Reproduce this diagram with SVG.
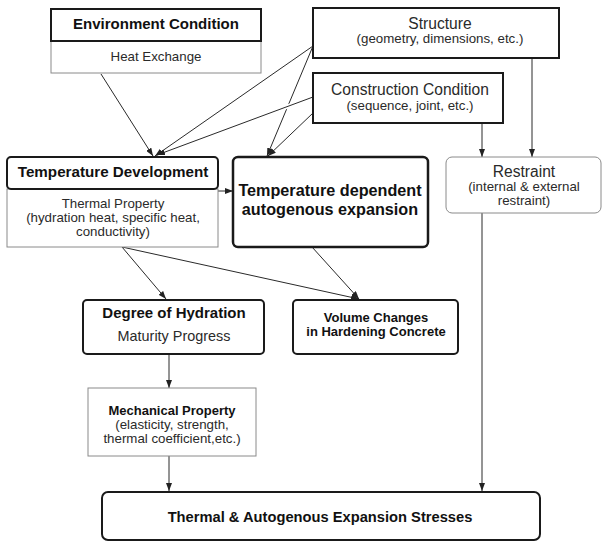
<svg xmlns="http://www.w3.org/2000/svg" width="602" height="543" viewBox="0 0 602 543">
<defs>
<marker id="ah" viewBox="0 0 8 6" refX="8" refY="3" markerWidth="8" markerHeight="6" markerUnits="userSpaceOnUse" orient="auto">
<path d="M0,0 L8,3 L0,6 z" fill="#222"/>
</marker>
<style>
.bold{fill:#fff;stroke:#1a1a1a;stroke-width:2}
.thick{fill:#fff;stroke:#1a1a1a;stroke-width:2.5}
.thin{fill:#fff;stroke:#8a8a8a;stroke-width:1}
.c{stroke:#2a2a2a;stroke-width:1;fill:none;marker-end:url(#ah)}
.halo{stroke:#fff;stroke-width:4;fill:none}
text{font-family:"Liberation Sans",Arial,sans-serif;text-anchor:middle;fill:#2a2a2a}
.tb{font-weight:bold;font-size:15px;fill:#111}
.tn{font-size:13.3px}
.tl{font-size:15.6px}
</style>
</defs>
<rect width="602" height="543" fill="#fff"/>

<g id="connectors">
<line class="c" x1="101" y1="74" x2="153" y2="156"/>
<line class="c" x1="313" y1="46" x2="155" y2="156"/>
<line class="c" x1="313" y1="46" x2="267" y2="156"/>
<line class="halo" x1="300" y1="102" x2="270" y2="113"/>
<line class="c" x1="313" y1="97" x2="157" y2="155"/>
<line class="c" x1="313" y1="113" x2="268" y2="156"/>
<line class="c" x1="532" y1="58" x2="532" y2="157"/>
<line class="c" x1="482" y1="123" x2="482" y2="157"/>
<line class="c" x1="218" y1="191" x2="233" y2="191"/>
<line class="c" x1="122" y1="247" x2="166" y2="299"/>
<line class="c" x1="122" y1="247" x2="359" y2="299"/>
<line class="c" x1="312" y1="247" x2="359" y2="299"/>
<line class="c" x1="169" y1="354" x2="169" y2="388"/>
<line class="c" x1="169" y1="456" x2="169" y2="491"/>
<line class="c" x1="482" y1="213" x2="482" y2="491"/>
</g>

<g id="environment">
<rect class="thin" x="51" y="41" width="210" height="32"/>
<rect class="bold" x="51" y="9" width="210" height="32"/>
<text class="tb" x="156" y="29">Environment Condition</text>
<text class="tn" x="156" y="61">Heat Exchange</text>
</g>

<g id="structure">
<rect class="bold" x="313" y="8" width="246" height="50"/>
<text class="tl" x="440" y="29">Structure</text>
<text class="tn" x="440" y="43">(geometry, dimensions, etc.)</text>
</g>

<g id="construction">
<rect class="bold" x="313" y="73" width="190" height="50"/>
<text class="tl" x="410" y="95">Construction Condition</text>
<text class="tn" x="410" y="110">(sequence, joint, etc.)</text>
</g>

<g id="temp-development">
<rect class="thin" x="7" y="189" width="211" height="58"/>
<rect class="bold" x="7" y="157" width="211" height="32" rx="4"/>
<text class="tb" x="113" y="177" style="font-size:15.2px">Temperature Development</text>
<text class="tn" x="113" y="208">Thermal Property</text>
<text class="tn" x="113" y="222">(hydration heat, specific heat,</text>
<text class="tn" x="113" y="236">conductivity)</text>
</g>

<g id="temp-dependent">
<rect class="thick" x="233" y="157" width="195" height="90" rx="5"/>
<text class="tb" x="330" y="196" style="font-size:16.2px">Temperature dependent</text>
<text class="tb" x="330" y="215" style="font-size:16.2px">autogenous expansion</text>
</g>

<g id="restraint">
<rect class="thin" x="446" y="157" width="155" height="56" rx="6"/>
<text class="tl" x="524" y="177">Restraint</text>
<text class="tn" x="524" y="191">(internal &amp; external</text>
<text class="tn" x="524" y="205">restraint)</text>
</g>

<g id="hydration">
<rect class="bold" x="83" y="300" width="181" height="54" rx="4"/>
<text class="tb" x="174" y="318">Degree of Hydration</text>
<text class="tn" x="174" y="341" style="font-size:14.4px">Maturity Progress</text>
</g>

<g id="volume">
<rect class="bold" x="293" y="300" width="165" height="54" rx="4"/>
<text class="tb" x="376" y="322" style="font-size:13px">Volume Changes</text>
<text class="tb" x="376" y="336" style="font-size:13px">in Hardening Concrete</text>
</g>

<g id="mechanical">
<rect class="thin" x="88" y="388" width="168" height="68"/>
<text class="tb" x="172" y="415" style="font-size:13px">Mechanical Property</text>
<text class="tn" x="172" y="429">(elasticity, strength,</text>
<text class="tn" x="172" y="443">thermal coefficient,etc.)</text>
</g>

<g id="stresses">
<rect class="bold" x="102" y="492" width="438" height="48" rx="6"/>
<text class="tb" x="320" y="522" style="font-size:14.7px">Thermal &amp; Autogenous Expansion Stresses</text>
</g>
</svg>
